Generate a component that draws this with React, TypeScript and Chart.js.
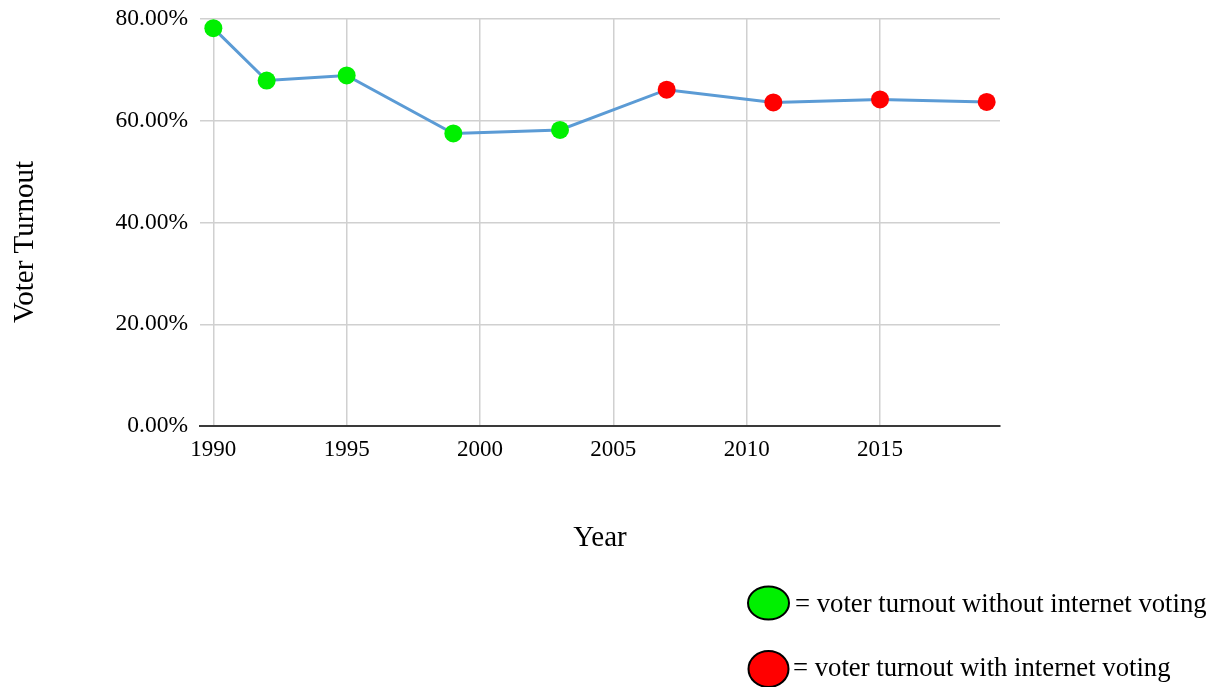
import React, { useEffect, useRef } from "react";
import { Chart, registerables } from "chart.js";

Chart.register(...registerables);

const years = [1990, 1992, 1995, 1999, 2003, 2007, 2011, 2015, 2019];
const turnout = [78.2, 67.9, 68.9, 57.5, 58.2, 66.1, 63.6, 64.2, 63.7];
const internetVoting = [false, false, false, false, false, true, true, true, true];
const xTickValues = [1990, 1995, 2000, 2005, 2010, 2015];
const yTickValues = [0, 20, 40, 60, 80];
const xTitle = "Year";
const yTitle = "Voter Turnout";
const legendLabels = [
  "= voter turnout without internet voting",
  "= voter turnout with internet voting",
];

const GREEN = "#00f000";
const RED = "#ff0000";
const FONT = '"Liberation Serif", "Times New Roman", serif';

const overlayPlugin = {
  id: "overlay",
  afterDraw(chart: any) {
    const ctx = chart.ctx as CanvasRenderingContext2D;
    ctx.save();
    ctx.fillStyle = "#000";
    // Y title
    ctx.font = `29px ${FONT}`;
    ctx.save();
    ctx.translate(33, 242);
    ctx.rotate(-Math.PI / 2);
    ctx.textAlign = "center";
    ctx.textBaseline = "alphabetic";
    ctx.fillText(yTitle, 0, 0);
    ctx.restore();
    // X title
    ctx.textAlign = "center";
    ctx.textBaseline = "alphabetic";
    ctx.fillText(xTitle, 600, 546);
    // Legend
    const items = [
      { color: GREEN, cx: 768.5, cy: 603, rx: 20.5, ry: 16.5, tx: 795, ty: 612, label: legendLabels[0] },
      { color: RED, cx: 768.5, cy: 669, rx: 20, ry: 18, tx: 793, ty: 676, label: legendLabels[1] },
    ];
    ctx.font = `26.7px ${FONT}`;
    ctx.textAlign = "left";
    for (const it of items) {
      ctx.beginPath();
      ctx.ellipse(it.cx, it.cy, it.rx, it.ry, 0, 0, Math.PI * 2);
      ctx.fillStyle = it.color;
      ctx.fill();
      ctx.lineWidth = 2;
      ctx.strokeStyle = "#000";
      ctx.stroke();
      ctx.fillStyle = "#000";
      ctx.fillText(it.label, it.tx, it.ty);
    }
    ctx.restore();
  },
};

export default function App() {
  const canvasRef = useRef<HTMLCanvasElement | null>(null);

  useEffect(() => {
    if (!canvasRef.current) return;
    const pointColors = internetVoting.map((v) => (v ? RED : GREEN));
    const chart = new Chart(canvasRef.current, {
      type: "line",
      data: {
        datasets: [
          {
            data: years.map((y, i) => ({ x: y, y: turnout[i] })),
            borderColor: "#5b9bd5",
            borderWidth: 3,
            pointBackgroundColor: pointColors,
            pointBorderColor: pointColors,
            pointBorderWidth: 0,
            pointRadius: 9,
            tension: 0,
          },
        ],
      },
      options: {
        animation: false,
        responsive: true,
        maintainAspectRatio: false,
        layout: { padding: { left: 0, top: 19, right: 222, bottom: 0 } },
        plugins: {
          legend: { display: false },
          tooltip: { enabled: false },
        },
        scales: {
          x: {
            type: "linear",
            min: 1989.5,
            max: 2019.5,
            afterBuildTicks: (scale: any) => {
              scale.ticks = xTickValues.map((v) => ({ value: v }));
            },
            afterFit: (scale: any) => {
              scale.height = 687 - 426;
              scale.paddingLeft = 0;
              scale.paddingRight = 0;
            },
            grid: { color: "#d0d0d0", lineWidth: 1.5, drawTicks: false },
            border: { display: true, color: "#3a3a3a", width: 2 },
            ticks: {
              color: "#000",
              font: { family: FONT, size: 23 },
              padding: 10,
              maxRotation: 0,
              callback: (v: any) => String(v),
            },
          },
          y: {
            min: 0,
            max: 80,
            afterBuildTicks: (scale: any) => {
              scale.ticks = yTickValues.map((v) => ({ value: v }));
            },
            afterFit: (scale: any) => {
              scale.width = 200;
              scale.paddingTop = 0;
              scale.paddingBottom = 0;
            },
            grid: { color: "#d0d0d0", lineWidth: 1.5, drawTicks: false },
            border: { display: false },
            ticks: {
              color: "#000",
              font: { family: FONT, size: 23.5 },
              padding: 12,
              callback: (v: any) => Number(v).toFixed(2) + "%",
            },
          },
        },
      },
      plugins: [overlayPlugin],
    });
    return () => chart.destroy();
  }, []);

  return (
    <div style={{ position: "absolute", left: 0, top: 0, width: 1222, height: 687, background: "#fff" }}>
      <canvas ref={canvasRef} />
    </div>
  );
}
